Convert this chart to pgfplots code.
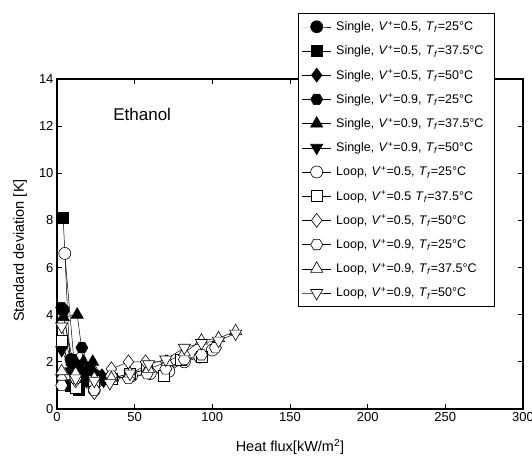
\documentclass[border=0pt]{standalone}
\usepackage{fontspec}
\setmainfont{Liberation Sans}
\usepackage{pgfplots}
\pgfplotsset{compat=1.18}
\pgfdeclareplotmark{hexagon}{%
  \pgfpathmoveto{\pgfqpointpolar{0}{\pgfplotmarksize}}%
  \pgfpathlineto{\pgfqpointpolar{60}{\pgfplotmarksize}}%
  \pgfpathlineto{\pgfqpointpolar{120}{\pgfplotmarksize}}%
  \pgfpathlineto{\pgfqpointpolar{180}{\pgfplotmarksize}}%
  \pgfpathlineto{\pgfqpointpolar{240}{\pgfplotmarksize}}%
  \pgfpathlineto{\pgfqpointpolar{300}{\pgfplotmarksize}}%
  \pgfpathclose
  \pgfusepathqstroke}
\pgfdeclareplotmark{hexagon*}{%
  \pgfpathmoveto{\pgfqpointpolar{0}{\pgfplotmarksize}}%
  \pgfpathlineto{\pgfqpointpolar{60}{\pgfplotmarksize}}%
  \pgfpathlineto{\pgfqpointpolar{120}{\pgfplotmarksize}}%
  \pgfpathlineto{\pgfqpointpolar{180}{\pgfplotmarksize}}%
  \pgfpathlineto{\pgfqpointpolar{240}{\pgfplotmarksize}}%
  \pgfpathlineto{\pgfqpointpolar{300}{\pgfplotmarksize}}%
  \pgfpathclose
  \pgfusepathqfillstroke}
\newcommand{\Vp}{\textit{V}\textsuperscript{+}}
\newcommand{\Tf}{\textit{T}\textsubscript{\textit{f}}}
\begin{document}
\begin{tikzpicture}
\path[use as bounding box] (0,0) rectangle (532pt,466pt);
\begin{axis}[
  at={(57pt,57pt)}, anchor=south west, scale only axis,
  width=466pt, height=330pt,
  xmin=0, xmax=300, ymin=0, ymax=14,
  xtick={0,50,...,300}, ytick={0,2,...,14},
  tick align=inside, major tick length=5pt,
  axis line style={line width=1.6pt},
  tick style={line width=0.8pt, black},
  tick label style={font=\fontsize{13}{15}\selectfont},
  /pgf/number format/assume math mode=true,
  xlabel={Heat flux[kW/m\textsuperscript{2}]},
  ylabel={Standard deviation [K]},
  label style={font=\fontsize{14.5}{17}\selectfont},
  xlabel style={at={(axis description cs:0.5,-0.115)}, anchor=center},
  ylabel style={at={(axis description cs:-0.079,0.48)}, anchor=center},
  clip=false,
  legend style={at={(0.517,1.2)}, anchor=north west, draw=black, line width=0.6pt,
    fill=white, font=\fontsize{12.5}{14}\selectfont, row sep=9.3pt,
    inner xsep=4pt, inner ysep=6pt,
    /tikz/every odd column/.append style={column sep=3pt},
    /tikz/every even column/.append style={text width=152pt}},
  legend cell align=left,
  legend image code/.code={\draw[mark repeat=2,mark phase=2] plot coordinates {(0cm,0cm) (0.5cm,0cm) (1cm,0cm)};},
  every axis plot/.append style={black, solid, line width=0.5pt, mark size=6pt},
]
% Single (filled)
\addplot[mark=*, mark options={fill=black, line width=0.6pt}] coordinates {(4,4.2) (9,2.1) (14,1.7) (19,1.5) (24,1.4)};
\addlegendentry{Single, \Vp=0.5, \Tf=25°C}
\addplot[mark=square*, mark options={fill=black, line width=0.6pt}, mark size=5.5pt] coordinates {(4,8.1) (9,1.0) (14,0.8) (19,1.2) (24,1.3)};
\addlegendentry{Single, \Vp=0.5, \Tf=37.5°C}
\addplot[mark=diamond*, mark options={fill=black, line width=0.6pt}, mark size=7pt] coordinates {(3,2.6) (9,1.9) (14,1.8) (19,1.6) (24,1.5) (29,1.4)};
\addlegendentry{Single, \Vp=0.5, \Tf=50°C}
\addplot[mark=hexagon*, mark options={fill=black, line width=0.6pt}] coordinates {(3,4.3) (10,2.1) (16,2.6) (21,1.7) (27,1.4)};
\addlegendentry{Single, \Vp=0.9, \Tf=25°C}
\addplot[mark=triangle*, mark options={fill=black, line width=0.6pt}, mark size=7pt] coordinates {(4,3.9) (13,4.0) (17,2.0) (23,2.0) (29,1.4)};
\addlegendentry{Single, \Vp=0.9, \Tf=37.5°C}
\addplot[mark=triangle*, mark options={fill=black, line width=0.6pt, rotate=180}, mark size=7pt] coordinates {(3,2.5) (9,1.6) (14,1.4) (19,1.2) (24,1.3) (30,1.2)};
\addlegendentry{Single, \Vp=0.9, \Tf=50°C}
% Loop (open)
\addplot[mark=*, mark options={fill=white, line width=0.6pt}] coordinates {(5,6.6) (12,1.2) (24,0.8) (36,1.3) (48,1.4) (60,1.5) (72,1.6) (82,2.0) (92,2.2) (100,2.5)};
\addlegendentry{Loop, \Vp=0.5, \Tf=25°C}
\addplot[mark=square*, mark options={fill=white, line width=0.6pt}, mark size=5.5pt] coordinates {(3,2.9) (12,0.9) (24,1.2) (35,1.3) (47,1.5) (58,1.7) (69,1.4) (80,2.1) (93,2.2)};
\addlegendentry{Loop, \Vp=0.5 \Tf=37.5°C}
\addplot[mark=diamond*, mark options={fill=white, line width=0.6pt}, mark size=7pt] coordinates {(3,1.3) (12,1.2) (24,0.7) (35,1.7) (46,2.0) (57,2.0) (70,2.0)};
\addlegendentry{Loop, \Vp=0.5, \Tf=50°C}
\addplot[mark=hexagon*, mark options={fill=white, line width=0.6pt}] coordinates {(3,1.0) (12,1.3) (24,0.8) (35,1.4) (46,1.3) (58,1.5) (70,1.7) (82,2.1) (93,2.3) (102,2.6)};
\addlegendentry{Loop, \Vp=0.9, \Tf=25°C}
\addplot[mark=triangle*, mark options={fill=white, line width=0.6pt}, mark size=7pt] coordinates {(3,1.6) (12,1.5) (24,1.3) (35,1.3) (47,1.5) (59,1.7) (71,2.0) (82,2.4) (93,2.9) (104,3.0) (115,3.3)};
\addlegendentry{Loop, \Vp=0.9, \Tf=37.5°C}
\addplot[mark=triangle*, mark options={fill=white, line width=0.6pt, rotate=180}, mark size=7pt] coordinates {(3,3.5) (12,1.3) (24,1.2) (34,1.1) (47,1.5) (59,1.9) (70,2.1) (82,2.6) (93,2.8) (104,2.9) (115,3.2)};
\addlegendentry{Loop, \Vp=0.9, \Tf=50°C}
\node[anchor=west, font=\fontsize{17}{20}\selectfont] at (axis cs:34,12.5) {Ethanol};
\end{axis}
\end{tikzpicture}
\end{document}
